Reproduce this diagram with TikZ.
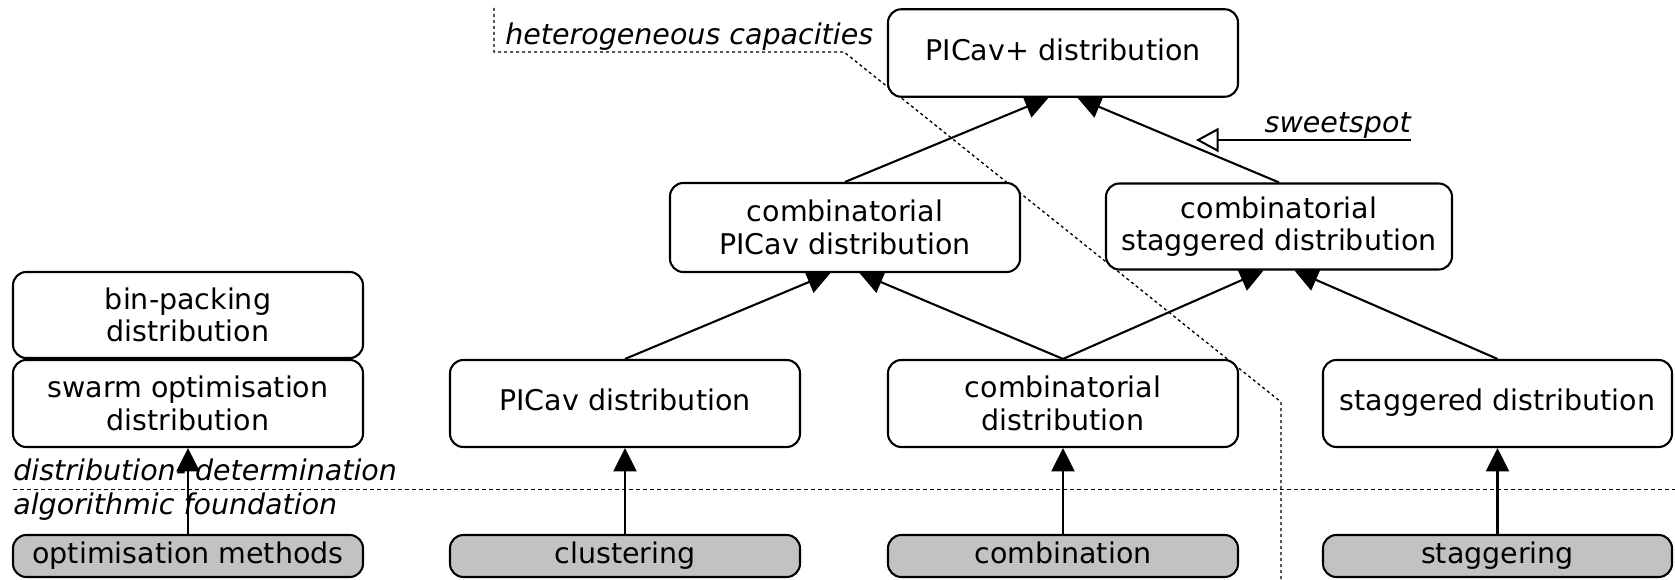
\documentclass[tikz,border=0pt]{standalone}
\usepackage{fontspec}
\setmainfont{DejaVu Sans}
\usetikzlibrary{arrows.meta,calc}
\definecolor{gfill}{RGB}{194,194,194}
\begin{document}
\begin{tikzpicture}[x=0.6pt,y=-0.6pt,
  every node/.style={font=\fontsize{17.1pt}{19.4pt}\selectfont, inner sep=0pt},
  box/.style={draw, line width=1.25pt, rounded corners=8pt, minimum width=210pt, minimum height=52.5pt, align=center, fill=white},
  oneline/.style={text height=12.8pt, text depth=4pt},
  gbox/.style={box, oneline, fill=gfill, minimum height=25.2pt},
  conn/.style={line width=1.25pt, -{Triangle[length=14pt,width=13.8pt]}},
  sep/.style={line width=0.6pt, dash pattern=on 2.4pt off 1.8pt},
  hetl/.style={line width=0.8pt, dash pattern=on 1.8pt off 1.8pt},
  lbl/.style={font=\fontsize{17.1pt}{19.4pt}\selectfont\itshape}
]
\useasboundingbox (0,0) rectangle (1675,580);

% dashed region boundary
\coordinate (h1) at (494,8);
\coordinate (h2) at (494,52);
\coordinate (h3) at (844,52);
\coordinate (h4) at (1281,402);
\coordinate (h5) at (1281,580);
\draw[hetl] (h1) -- (h2) -- (h3) -- (h4) -- (h5);
\node[lbl, anchor=base west] (het) at (505,45) {heterogeneous capacities};

% layer separator
\coordinate (s1) at (13,490);
\coordinate (s2) at (1675,490);
\draw[sep] (s1) -- (s2);
\node[lbl, anchor=base west] (dd) at (13,481) {distribution- determination};
\node[lbl, anchor=base west] (af) at (13,515) {algorithmic foundation};

% boxes
\node[box, oneline] (plus) at (1063,53) {PICav+ distribution};
\node[box, minimum height=53.4pt] (cpicav) at (845,227.5) {combinatorial\\PICav distribution};
\node[box, minimum width=207.6pt, minimum height=51.6pt] (cstag) at (1279,226.5) {combinatorial\\staggered distribution};
\node[box, minimum height=51.6pt] (binp) at (188,315) {bin-packing\\distribution};
\node[box, minimum height=52.2pt] (swarm) at (188,403.5) {swarm optimisation\\distribution};
\node[box, oneline, minimum height=52.2pt] (picav) at (625,403.5) {PICav distribution};
\node[box, minimum height=52.2pt] (comb) at (1063,403.5) {combinatorial\\distribution};
\node[box, oneline, minimum width=209.4pt, minimum height=52.2pt] (stag) at (1497.5,403.5) {staggered distribution};

\node[gbox] (optm) at (188,556) {optimisation methods};
\node[gbox] (clus) at (625,556) {clustering};
\node[gbox] (combn) at (1063,556) {combination};
\node[gbox, minimum width=209.4pt] (stagg) at (1497.5,556) {staggering};

% connectors
\draw[conn] (optm.north) -- (swarm.south);
\draw[conn] (clus.north) -- (picav.south);
\draw[conn] (combn.north) -- (comb.south);
\draw[conn] (stagg.north) -- (stag.south);

\draw[conn] (picav.north) -- ($(cpicav.south)+(-14.5,0)$);
\draw[conn] (comb.north) -- ($(cpicav.south)+(14.5,0)$);
\draw[conn] (comb.north) -- ($(cstag.south)+(-15.5,0)$);
\draw[conn] (stag.north) -- ($(cstag.south)+(15.5,0)$);
\draw[conn] (cpicav.north) -- ($(plus.south)+(-14.5,0)$);
\draw[conn] (cstag.north) -- ($(plus.south)+(14.5,0)$);

% sweetspot
\coordinate (sw1) at (1411,140);
\coordinate (sw2) at (1196,140);
\node[lbl, anchor=base east] (swt) at (1411,133) {sweetspot};
\draw[line width=1.2pt, -{Triangle[open,length=13.5pt,width=14.4pt]}] (sw1) -- (sw2);
\end{tikzpicture}
\end{document}
